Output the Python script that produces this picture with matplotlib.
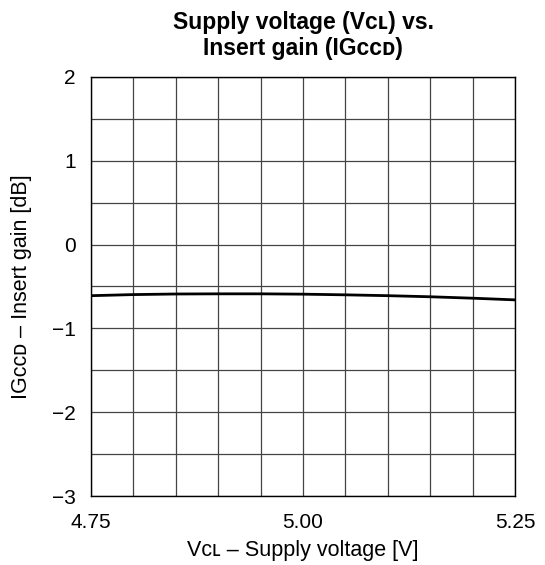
import matplotlib
matplotlib.use('Agg')
import matplotlib.pyplot as plt

# supply voltage [V] and insert gain [dB]
voltage = [4.75, 4.80, 4.85, 4.90, 4.95, 5.00, 5.05, 5.10, 5.15, 5.20, 5.25]
gain = [-0.61, -0.597, -0.59, -0.588, -0.588, -0.592, -0.60, -0.61, -0.623, -0.64, -0.66]

x_ticks = [4.75, 5.00, 5.25]
x_labels = ['4.75', '5.00', '5.25']
y_ticks = [-3, -2, -1, 0, 1, 2]
y_labels = ['\u22123', '\u22122', '\u22121', '0', '1', '2']

plt.rcParams['font.family'] = ['Liberation Sans', 'DejaVu Sans']

fig = plt.figure(figsize=(5.45, 5.65), dpi=100)
ax = fig.add_axes([0.167, 0.122, 0.778, 0.742])

ax.plot(voltage, gain, color='black', linewidth=2)

ax.set_xlim(4.75, 5.25)
ax.set_ylim(-3, 2)
ax.set_xticks([4.75 + 0.05 * i for i in range(11)], minor=True)
ax.set_yticks([-3 + 0.5 * i for i in range(11)], minor=True)
ax.set_xticks(x_ticks)
ax.set_xticklabels(x_labels)
ax.set_yticks(y_ticks)
ax.set_yticklabels(y_labels)
ax.grid(which='both', color='#444444', linewidth=0.9)
ax.tick_params(which='both', length=0, labelsize=15)
ax.tick_params(axis='y', pad=11)
ax.tick_params(axis='x', pad=12)
for s in ax.spines.values():
    s.set_color('black')
    s.set_linewidth(1)

ax.set_xlabel('V\u1d04\u029f \u2013 Supply voltage [V]', fontsize=15.5, labelpad=6)
ax.set_ylabel('IG\u1d04\u1d04\u1d05 \u2013 Insert gain [dB]', fontsize=15.5, labelpad=14)
ax.set_title('Supply voltage (V\u1d04\u029f) vs.\nInsert gain (IG\u1d04\u1d04\u1d05)',
             fontsize=16.5, fontweight='bold', pad=16, linespacing=1.15)

fig.savefig('out.png', dpi=100)
